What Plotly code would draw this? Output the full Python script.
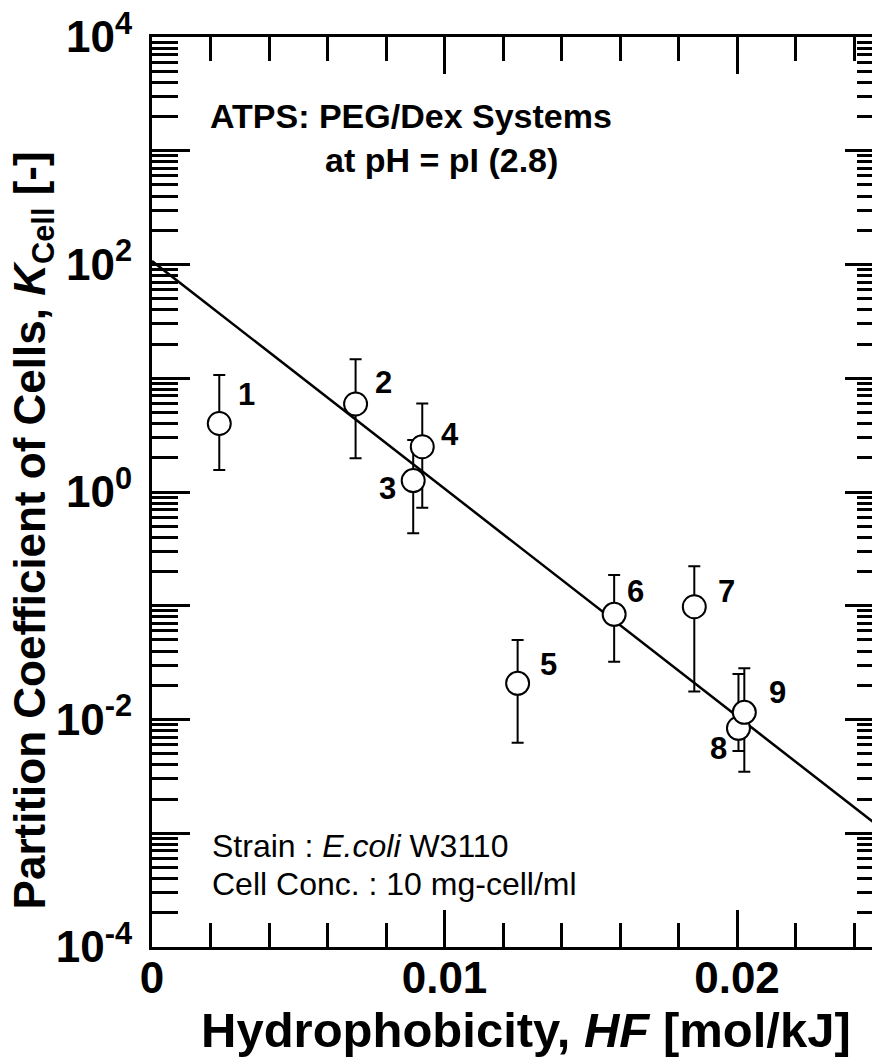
import math
import plotly.graph_objects as go

# ---- data ----
labels = ["1", "2", "3", "4", "5", "6", "7", "8", "9"]
hf = [0.0023, 0.00696, 0.00893, 0.00924, 0.0125, 0.0158, 0.01854, 0.02005, 0.02025]
k_cell = [4.0, 5.94, 1.26, 2.5, 0.0208, 0.084, 0.098, 0.00837, 0.01156]
k_upper = [10.7, 14.7, 2.87, 6.0, 0.050, 0.186, 0.223, 0.0251, 0.0282]
k_lower = [1.56, 1.98, 0.433, 0.728, 0.00625, 0.0322, 0.0176, 0.00528, 0.00348]

fit_hf = [0.0, 0.025]
fit_k = [107.2, 0.00107]

y_label_vals = [1e-4, 1e-2, 1e0, 1e2, 1e4]
y_label_text = ["10<sup>-4</sup>", "10<sup>-2</sup>", "10<sup>0</sup>",
                "10<sup>2</sup>", "10<sup>4</sup>"]
y_odd_decades = [1e-3, 1e-1, 1e1, 1e3]
y_all_decades = [1e-4, 1e-3, 1e-2, 1e-1, 1e0, 1e1, 1e2, 1e3, 1e4]
x_tick_vals = [0.0, 0.01, 0.02]
x_tick_text = ["0", "0.01", "0.02"]

# label offsets in pixels (styling)
lab_dx = [27, 28, -26, 28, 31, 21, 32, -20, 33]
lab_dy = [29, 21, -8, 12, 19, 23, 15, -20, 20]

FONT = "Liberation Sans, Arial, sans-serif"

minor_y = [m * 10.0 ** e for e in range(-4, 4) for m in range(2, 10)]

err_plus = [u - k for u, k in zip(k_upper, k_cell)]
err_minus = [k - l for k, l in zip(k_cell, k_lower)]

fig = go.Figure()

fig.add_trace(go.Scatter(
    x=fit_hf, y=fit_k, mode="lines",
    line=dict(color="black", width=2.5), hoverinfo="skip", showlegend=False))

fig.add_trace(go.Scatter(
    x=hf, y=k_cell, mode="markers",
    marker=dict(symbol="circle", size=23, color="white",
                line=dict(color="black", width=2)),
    error_y=dict(type="data", symmetric=False, array=err_plus, arrayminus=err_minus,
                 color="black", thickness=2, width=6),
    showlegend=False))

# invisible traces to activate the extra tick-only axes
fig.add_trace(go.Scatter(x=[0.01], y=[1], yaxis="y2", mode="markers",
                         marker=dict(opacity=0), hoverinfo="skip", showlegend=False))
fig.add_trace(go.Scatter(x=[0.01], y=[1], yaxis="y3", mode="markers",
                         marker=dict(opacity=0), hoverinfo="skip", showlegend=False))

annotations = []
for lab, x, y, dx, dy in zip(labels, hf, k_cell, lab_dx, lab_dy):
    annotations.append(dict(x=x, y=math.log10(y), xref="x", yref="y", text=lab,
                            showarrow=False, xshift=dx, yshift=dy,
                            font=dict(family=FONT, size=31, color="black", weight="bold")))

annotations += [
    dict(x=0.0778, y=0.9132, xref="paper", yref="paper", xanchor="left", yanchor="middle",
         text="ATPS: PEG/Dex Systems", showarrow=False,
         font=dict(family=FONT, size=34, color="black", weight="bold")),
    dict(x=0.2375, y=0.8648, xref="paper", yref="paper", xanchor="left", yanchor="middle",
         text="at pH = pI (2.8)", showarrow=False,
         font=dict(family=FONT, size=34, color="black", weight="bold")),
    dict(x=0.0806, y=0.1110, xref="paper", yref="paper", xanchor="left", yanchor="middle",
         text="Strain : <i>E.coli</i> W3110", showarrow=False,
         font=dict(family=FONT, size=32, color="black")),
    dict(x=0.0806, y=0.0692, xref="paper", yref="paper", xanchor="left", yanchor="middle",
         text="Cell Conc. : 10 mg-cell/ml", showarrow=False,
         font=dict(family=FONT, size=32, color="black")),
    dict(x=0.519, y=-0.0912, xref="paper", yref="paper", xanchor="center", yanchor="middle",
         text="Hydrophobicity, <i>HF</i> [mol/kJ]", showarrow=False,
         font=dict(family=FONT, size=49, color="black", weight="bold")),
    dict(x=-0.165, y=0.458, xref="paper", yref="paper", xanchor="center", yanchor="middle",
         textangle=-90,
         text="Partition Coefficient of Cells, <i>K</i><sub>Cell</sub> [-]", showarrow=False,
         font=dict(family=FONT, size=44, color="black", weight="bold")),
]

fig.update_layout(
    width=872, height=1059,
    margin=dict(l=152, r=0, t=37, b=112, pad=0),
    paper_bgcolor="white", plot_bgcolor="white",
    annotations=annotations,
    xaxis=dict(
        range=[0, 0.024615], showgrid=False, zeroline=False,
        showline=True, linecolor="black", linewidth=3, mirror="ticks",
        tickmode="array", tickvals=x_tick_vals, ticktext=x_tick_text,
        ticks="inside", ticklen=37, tickwidth=2.5, tickcolor="black",
        ticklabelstandoff=-10,
        tickfont=dict(family=FONT, size=44, color="black", weight="bold"),
        minor=dict(dtick=0.002, ticks="inside", ticklen=24, tickwidth=2.5,
                   tickcolor="black", showgrid=False),
    ),
    yaxis=dict(
        type="log", range=[-4, 4], showgrid=False, zeroline=False,
        showline=True, linecolor="black", linewidth=3, mirror=False,
        tickmode="array", tickvals=y_label_vals, ticktext=y_label_text,
        ticks="inside", ticklen=38, tickwidth=2.5, tickcolor="black",
        ticklabelstandoff=8,
        tickfont=dict(family=FONT, size=44, color="black", weight="bold"),
        minor=dict(tickmode="array", tickvals=minor_y, ticks="inside", ticklen=26,
                   tickwidth=2.5, tickcolor="black", showgrid=False),
    ),
    yaxis2=dict(
        type="log", range=[-4, 4], overlaying="y", side="right", anchor="x",
        showgrid=False, zeroline=False, showline=False, showticklabels=False,
        tickmode="array", tickvals=y_all_decades,
        ticks="inside", ticklen=27, tickwidth=2.5, tickcolor="black",
        minor=dict(tickmode="array", tickvals=minor_y, ticks="inside", ticklen=15,
                   tickwidth=2.5, tickcolor="black", showgrid=False),
    ),
    yaxis3=dict(
        type="log", range=[-4, 4], overlaying="y", side="left", anchor="x",
        showgrid=False, zeroline=False, showline=False, showticklabels=False,
        tickmode="array", tickvals=y_odd_decades,
        ticks="inside", ticklen=38, tickwidth=2.5, tickcolor="black",
    ),
)

fig.write_html("out.html")
